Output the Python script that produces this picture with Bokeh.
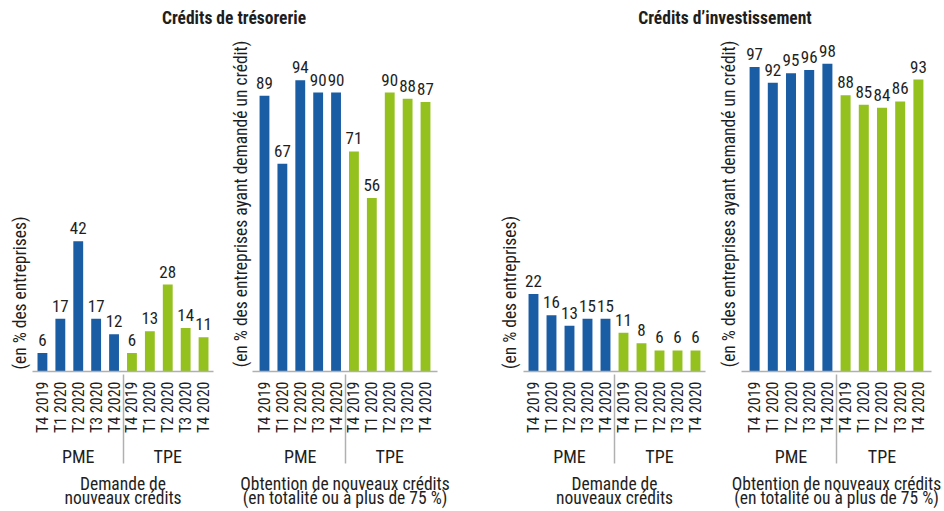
import math
from bokeh.plotting import figure
from bokeh.models import FactorRange, Range1d, ColumnDataSource, LabelSet, FixedTicker, Div
from bokeh.layouts import row, column
from bokeh.core.properties import value
from bokeh.embed import file_html
from bokeh.resources import INLINE

# ---- data ----
groups = ["PME", "TPE"]
quarters = ["T4 2019", "T1 2020", "T2 2020", "T3 2020", "T4 2020"]

treso_demande_pme = [6, 17, 42, 17, 12]
treso_demande_tpe = [6, 13, 28, 14, 11]
treso_obtention_pme = [89, 67, 94, 90, 90]
treso_obtention_tpe = [71, 56, 90, 88, 87]
invest_demande_pme = [22, 16, 13, 15, 15]
invest_demande_tpe = [11, 8, 6, 6, 6]
invest_obtention_pme = [97, 92, 95, 96, 98]
invest_obtention_tpe = [88, 85, 84, 86, 93]

title_treso = "Crédits de trésorerie"
title_invest = "Crédits d’investissement"
ylabel_demande = "(en % des entreprises)"
ylabel_obtention = "(en % des entreprises ayant demandé un crédit)"
xlabel_demande = "Demande de\nnouveaux crédits"
xlabel_obtention = "Obtention de nouveaux crédits\n(en totalité ou à plus de 75 %)"

# ---- style ----
BLUE = "#1A5DA5"
GREEN = "#95C11F"
TEXT = "#1e1e1e"
GREY = "#B0B0B0"
FONT = "'Liberation Sans Narrow', 'Roboto Condensed', 'Arial Narrow', 'DejaVu Sans Condensed', sans-serif"
DIV_H = 36
FIG_H = 475


def make_panel(pme, tpe, ylabel, xlabel, width, bl, br, bt, pad, ymax, ystandoff):
    factors = [(g, q) for g in groups for q in quarters]
    values = list(pme) + list(tpe)
    colors = [BLUE] * len(pme) + [GREEN] * len(tpe)
    src = ColumnDataSource(dict(x=factors, top=values,
                                label=[str(v) for v in values], color=colors))
    xr = FactorRange(factors=factors, factor_padding=0, group_padding=0,
                     subgroup_padding=0, range_padding=pad)
    p = figure(x_range=xr, y_range=Range1d(0, ymax), width=width, height=FIG_H,
               output_backend="svg", toolbar_location=None,
               min_border_left=bl, min_border_right=br,
               min_border_top=bt, min_border_bottom=0)
    p.frame_align = False
    p.vbar(x="x", top="top", width=0.55, fill_color="color", line_color=None, source=src)
    p.add_layout(LabelSet(x="x", y="top", text="label", source=src,
                          text_align="center", text_baseline="alphabetic",
                          y_offset=7, text_font_size="17px",
                          text_font=value(FONT), text_color=TEXT))
    p.outline_line_color = None
    p.xgrid.visible = False
    p.ygrid.visible = False

    xa = p.xaxis[0]
    xa.major_label_orientation = math.pi / 2
    xa.major_label_text_font = FONT
    xa.major_label_text_font_size = "16px"
    xa.major_label_text_color = TEXT
    xa.major_label_standoff = 10
    xa.group_text_font = FONT
    xa.group_text_font_size = "18px"
    xa.group_text_font_style = "normal"
    xa.group_text_color = TEXT
    xa.separator_line_color = GREY
    xa.separator_line_width = 1.5
    xa.major_tick_line_color = None
    xa.major_tick_out = 0
    xa.major_tick_in = 0
    xa.axis_line_color = GREY
    xa.axis_line_width = 1.5
    xa.axis_label = xlabel
    xa.axis_label_text_font = FONT
    xa.axis_label_text_font_size = "17.5px"
    xa.axis_label_text_font_style = "normal"
    xa.axis_label_text_color = TEXT
    xa.axis_label_standoff = 4
    xa.axis_label_text_line_height = 0.72

    ya = p.yaxis[0]
    ya.ticker = FixedTicker(ticks=[])
    ya.minor_tick_line_color = None
    ya.major_tick_line_color = None
    ya.major_tick_out = 0
    ya.major_label_standoff = 0
    ya.axis_line_color = None
    ya.axis_label = ylabel
    ya.axis_label_text_font = FONT
    ya.axis_label_text_font_size = "17.5px"
    ya.axis_label_text_font_style = "normal"
    ya.axis_label_text_color = TEXT
    ya.axis_label_standoff = ystandoff
    return p


def title_div(text, width, pad_left):
    html = (f'<div style="width:{width}px;box-sizing:border-box;padding-left:{pad_left}px;'
            f'text-align:center;font-family:{FONT};font-weight:bold;font-size:17.5px;'
            f'line-height:{DIV_H}px;color:{TEXT};white-space:nowrap;">{text}</div>')
    return Div(text=html, width=width, height=DIV_H, margin=(0, 0, 0, 0))


p1 = make_panel(treso_demande_pme, treso_demande_tpe, ylabel_demande, xlabel_demande,
                226, 32, 13, 178, 0.011, 50.6, 3)
p2 = make_panel(treso_obtention_pme, treso_obtention_tpe, ylabel_obtention, xlabel_obtention,
                270, 26, 59, 0, 0.034, 108.1, 2)
p3 = make_panel(invest_demande_pme, invest_demande_tpe, ylabel_demande, xlabel_demande,
                219, 26, 10, 177, 0.011, 44.9, 4)
p4 = make_panel(invest_obtention_pme, invest_obtention_tpe, ylabel_obtention, xlabel_obtention,
                229, 26, 13, 0, 0.044, 106.7, 3)

d1 = title_div(title_treso, 468, 0)
d2 = title_div(title_invest, 476, 38)

layout = column(row(d1, d2), row(p1, p2, p3, p4))

open("out.html", "w").write(file_html(layout, INLINE))
